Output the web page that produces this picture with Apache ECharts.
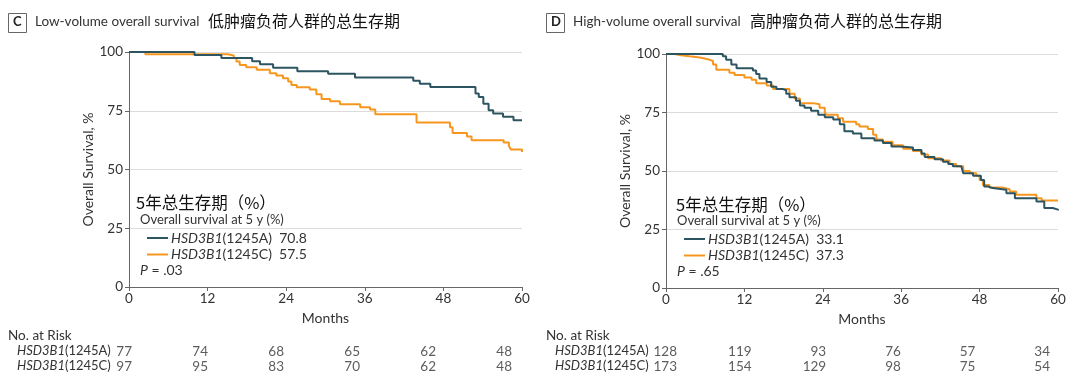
<!DOCTYPE html>
<html><head><meta charset="utf-8">
<script src="https://cdn.jsdelivr.net/npm/echarts@6/dist/echarts.min.js"></script>
<style>html,body{margin:0;padding:0;background:#fff}#c{width:1080px;height:386px}</style>
</head><body><div id="c"></div>
<script>
// ---- data ----
const xTicks = [0, 12, 24, 36, 48, 60];
const lowA_t = [0, 10.0, 14.1, 18.8, 20.0, 22.0, 25.7, 30.4, 34.5, 43.4, 44.4, 46.0, 52.9, 53.4, 54.1, 54.9, 55.6, 57.1, 58.7, 60];
const lowA_s = [100, 98.7, 97.4, 96.1, 94.8, 93.3, 91.8, 90.7, 89.2, 87.8, 86.5, 85.1, 82.3, 80.9, 78.0, 75.2, 73.8, 72.4, 71.0, 70.8];
const lowC_t = [0, 2.5, 15.1, 16.0, 16.4, 16.9, 17.9, 19.5, 21.5, 22.5, 23.5, 24.3, 24.8, 25.6, 27.6, 28.6, 29.4, 30.7, 32.2, 35.3, 36.8, 37.6, 43.9, 49.0, 49.4, 51.6, 52.3, 57.2, 58.0, 58.3, 60];
const lowC_s = [100, 99.0, 98.5, 97.5, 96.0, 94.5, 93.5, 92.5, 91.0, 90.0, 88.8, 87.5, 86.0, 85.0, 84.0, 82.0, 80.0, 79.0, 77.8, 76.5, 75.5, 73.5, 70.0, 68.0, 65.5, 64.0, 62.5, 61.5, 60.0, 58.5, 57.5];
const highA_t = [0, 8.7, 9.2, 10.0, 10.8, 13.3, 13.8, 14.3, 15.4, 16.1, 16.9, 17.9, 18.4, 18.9, 19.9, 20.5, 21.2, 22.2, 23.3, 24.3, 25.6, 26.6, 27.3, 28.6, 29.9, 31.9, 33.2, 34.5, 35.8, 37.8, 39.1, 39.6, 41.1, 42.4, 43.2, 43.9, 45.2, 45.5, 47.0, 48.2, 48.7, 49.3, 50.0, 52.1, 53.4, 56.7, 57.9, 59.2, 60];
const highA_s = [100, 99, 97.5, 95.5, 93.9, 93, 91.5, 89.5, 88, 86, 85, 84.5, 83, 81.5, 80, 78, 77, 75.7, 74, 73, 72, 70, 67, 66, 64, 63, 62, 60.5, 60, 59, 57.5, 56, 55, 54, 53, 52, 51.5, 49, 48, 46.2, 43.4, 42.7, 42, 40.5, 38.4, 37, 34.2, 33.5, 33.1];
const highC_t = [0, 1.3, 2.3, 3.6, 5.2, 6.4, 7.2, 7.7, 9.7, 10.5, 12.0, 13.1, 13.8, 15.4, 16.4, 18.9, 19.7, 20.5, 22.5, 23.5, 24.3, 24.6, 26.3, 27.1, 29.1, 29.6, 30.9, 31.7, 32.2, 33.2, 34.7, 36.3, 37.8, 39.1, 40.1, 42.1, 43.4, 44.4, 45.5, 46.5, 47.5, 48.0, 48.5, 49.5, 51.5, 52.6, 53.6, 56.7, 57.5, 60];
const highC_s = [100, 99.5, 99, 98.5, 97.8, 97, 95.5, 93.3, 92, 91, 90, 89, 87.5, 86.5, 85, 83, 81, 79, 78.5, 77, 75, 74, 72.5, 71, 70, 69, 68, 65.5, 63.5, 62.5, 61, 59.5, 58.5, 57, 55.5, 54.5, 53, 52, 50, 49, 48, 46.2, 44, 43, 42.2, 41.2, 39.8, 38.4, 37.4, 37.3];
const riskLowA = [77, 74, 68, 65, 62, 48];
const riskLowC = [97, 95, 83, 70, 62, 48];
const riskHighA = [128, 119, 93, 76, 57, 34];
const riskHighC = [173, 154, 129, 98, 75, 54];
const fiveYear = {lowA: '70.8', lowC: '57.5', highA: '33.1', highC: '37.3'};
const pValues = ['.03', '.65'];

const TEAL = '#2d5461', ORANGE = '#f7961f';
const LAT = 'Lato, "Noto Sans", sans-serif';
const CJK = '"Noto Sans CJK SC", sans-serif';
const TXT = '#333';

const pairs = (t, s) => t.map((v, i) => [v, s[i]]);

function mainX(gi) {
  return {gridIndex: gi, type: 'value', min: 0, max: 60, interval: 12,
    name: 'Months', nameLocation: 'middle', nameGap: 24,
    nameTextStyle: {fontFamily: LAT, fontSize: 14, color: TXT},
    axisLine: {show: true, lineStyle: {color: '#666', width: 1}},
    axisTick: {show: true, length: 4, lineStyle: {color: '#666'}},
    axisLabel: {fontFamily: LAT, fontSize: 13.5, color: TXT, margin: 5},
    splitLine: {show: false}};
}
function mainY(gi) {
  return {gridIndex: gi, type: 'value', min: 0, max: 100, interval: 25,
    name: 'Overall Survival, %', nameLocation: 'middle', nameGap: 23, nameRotate: 90,
    nameTextStyle: {fontFamily: LAT, fontSize: 14, color: TXT},
    axisLine: {show: true, lineStyle: {color: '#666', width: 1}},
    axisTick: {show: true, length: 4, lineStyle: {color: '#666'}},
    axisLabel: {fontFamily: LAT, fontSize: 13.5, color: TXT, margin: 6},
    splitLine: {show: true, lineStyle: {color: '#dcdcdc', width: 1}}};
}
const hidX = gi => ({gridIndex: gi, type: 'value', min: 0, max: 60, show: false});
const hidY = gi => ({gridIndex: gi, type: 'value', min: 0, max: 1, show: false});

function km(name, t, s, color, gi) {
  return {name, type: 'line', xAxisIndex: gi, yAxisIndex: gi, step: 'end',
    data: pairs(t, s), symbol: 'none', lineStyle: {color, width: 2}, itemStyle: {color}};
}
function riskSeries(vals, row, gi) {
  return {type: 'scatter', xAxisIndex: gi, yAxisIndex: gi, symbolSize: 0,
    data: xTicks.map((t, i) => [t, row, vals[i]]),
    label: {show: true, position: 'left', distance: 0, formatter: p => String(p.value[2]),
      fontFamily: LAT, fontSize: 13.5, color: TXT}};
}

const legendRich = {
  i: {fontFamily: LAT, fontStyle: 'italic', fontSize: 14, color: TXT, lineHeight: 15},
  n: {fontFamily: LAT, fontSize: 14, color: TXT, lineHeight: 15}
};
const legendLabels = {
  'A-low': '{i|HSD3B1}{n|(1245A)  ' + fiveYear.lowA + '}',
  'C-low': '{i|HSD3B1}{n|(1245C)  ' + fiveYear.lowC + '}',
  'A-high': '{i|HSD3B1}{n|(1245A)  ' + fiveYear.highA + '}',
  'C-high': '{i|HSD3B1}{n|(1245C)  ' + fiveYear.highC + '}'
};
function legend(data, left, top) {
  return {data, left, top, orient: 'vertical', icon: 'rect', itemWidth: 21, itemHeight: 2,
    itemGap: 2.5, selectedMode: false, formatter: n => legendLabels[n],
    textStyle: {rich: legendRich, padding: [0, 0, 0, -2]}};
}

function richTxt(x, y, text, rich) {
  return {type: 'text', left: x, top: y - 8, style: {text, rich, fill: TXT}};
}
const tRich = {
  i: {fontFamily: LAT, fontStyle: 'italic', fontSize: 13, fill: TXT, lineHeight: 16},
  n: {fontFamily: LAT, fontSize: 13, fill: TXT, lineHeight: 16}
};
const pRich = {
  i: {fontFamily: LAT, fontStyle: 'italic', fontSize: 14, fill: TXT, lineHeight: 16},
  n: {fontFamily: LAT, fontSize: 14, fill: TXT, lineHeight: 16}
};

const graphics = [
  {type: 'rect', shape: {x: 8.5, y: 13.5, width: 18, height: 19}, style: {fill: 'none', stroke: '#666', lineWidth: 1}},
  {type: 'text', left: 13, top: 15, style: {text: 'C', fontSize: 13, fontWeight: 'bold', fontFamily: LAT, fill: '#222'}},
  {type: 'text', left: 35, top: 15, style: {text: 'Low-volume overall survival', fontSize: 13.5, fontFamily: LAT, fill: TXT}},
  {type: 'text', left: 208, top: 13, style: {text: '低肿瘤负荷人群的总生存期', fontSize: 16, fontFamily: CJK, fill: '#111'}},
  {type: 'rect', shape: {x: 546.5, y: 13.5, width: 18, height: 19}, style: {fill: 'none', stroke: '#666', lineWidth: 1}},
  {type: 'text', left: 551, top: 15, style: {text: 'D', fontSize: 13, fontWeight: 'bold', fontFamily: LAT, fill: '#222'}},
  {type: 'text', left: 573, top: 15, style: {text: 'High-volume overall survival', fontSize: 13.5, fontFamily: LAT, fill: TXT}},
  {type: 'text', left: 750, top: 13, style: {text: '高肿瘤负荷人群的总生存期', fontSize: 16, fontFamily: CJK, fill: '#111'}},
  // legend headers
  {type: 'text', left: 136, top: 194, style: {text: '5年总生存期（%）', fontSize: 16.5, fontFamily: CJK, fill: '#111'}},
  {type: 'text', left: 140, top: 213, style: {text: 'Overall survival at 5 y (%)', fontSize: 13, fontFamily: LAT, fill: TXT}},
  richTxt(140, 271, '{i|P}{n| = ' + pValues[0] + '}', pRich),
  {type: 'text', left: 676, top: 196, style: {text: '5年总生存期（%）', fontSize: 16.5, fontFamily: CJK, fill: '#111'}},
  {type: 'text', left: 677, top: 214, style: {text: 'Overall survival at 5 y (%)', fontSize: 13, fontFamily: LAT, fill: TXT}},
  richTxt(677, 272, '{i|P}{n| = ' + pValues[1] + '}', pRich),
  // risk table labels
  {type: 'text', left: 8, top: 329, style: {text: 'No. at Risk', fontSize: 13.5, fontFamily: LAT, fill: TXT}},
  richTxt(17, 352, '{i|HSD3B1}{n|(1245A)}', tRich),
  richTxt(17, 367, '{i|HSD3B1}{n|(1245C)}', tRich),
  {type: 'text', left: 546, top: 329, style: {text: 'No. at Risk', fontSize: 13.5, fontFamily: LAT, fill: TXT}},
  richTxt(555, 352, '{i|HSD3B1}{n|(1245A)}', tRich),
  richTxt(555, 367, '{i|HSD3B1}{n|(1245C)}', tRich)
];

const chart = echarts.init(document.getElementById('c'), null, {renderer: 'canvas'});
chart.setOption({
  animation: false,
  backgroundColor: '#fff',
  grid: [
    {left: 129, top: 52, width: 393, height: 235},
    {left: 666, top: 54, width: 392, height: 234},
    {left: 132, top: 352, width: 380, height: 15},
    {left: 677, top: 352, width: 373, height: 15}
  ],
  xAxis: [mainX(0), mainX(1), hidX(2), hidX(3)],
  yAxis: [mainY(0), mainY(1), hidY(2), hidY(3)],
  legend: [legend(['A-low', 'C-low'], 142, 226), legend(['A-high', 'C-high'], 679, 227)],
  series: [
    km('C-low', lowC_t, lowC_s, ORANGE, 0),
    km('A-low', lowA_t, lowA_s, TEAL, 0),
    km('C-high', highC_t, highC_s, ORANGE, 1),
    km('A-high', highA_t, highA_s, TEAL, 1),
    riskSeries(riskLowA, 1, 2), riskSeries(riskLowC, 0, 2),
    riskSeries(riskHighA, 1, 3), riskSeries(riskHighC, 0, 3)
  ],
  graphic: graphics
});
</script></body></html>
